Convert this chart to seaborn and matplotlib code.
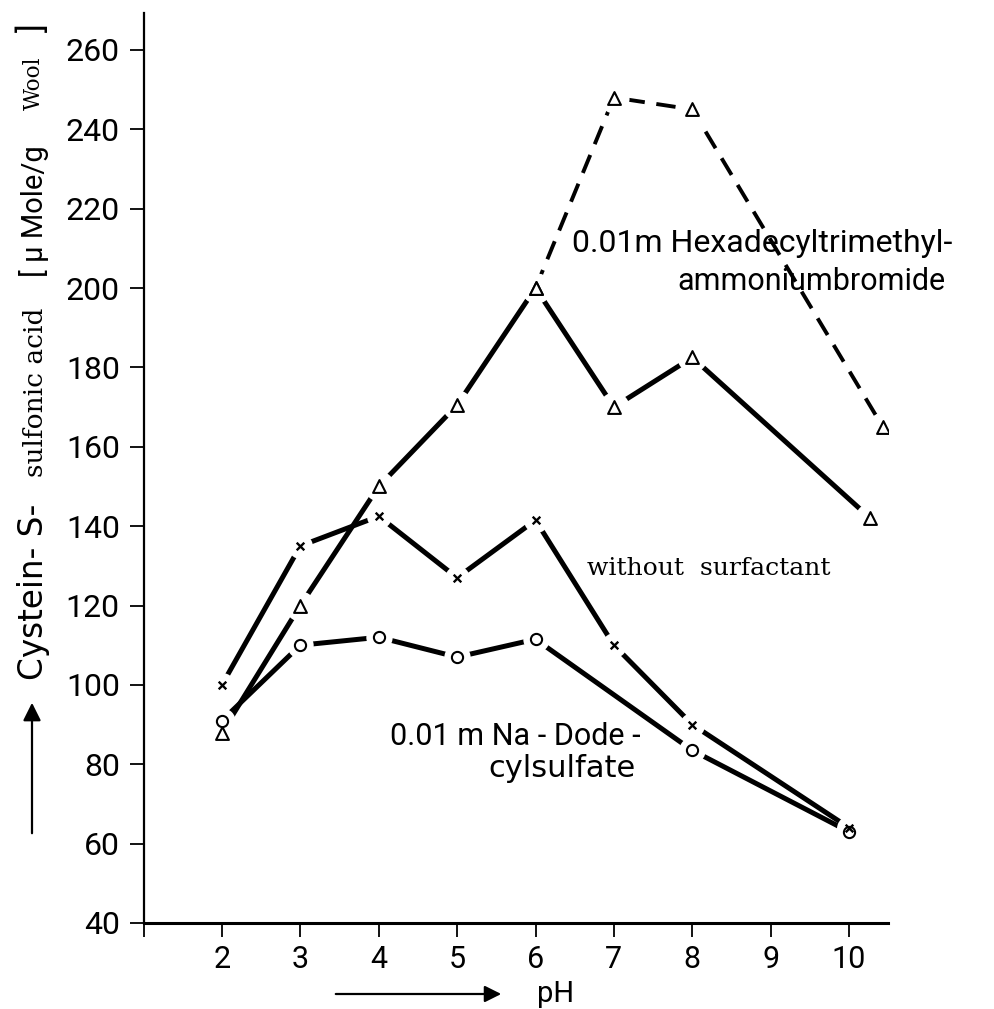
import matplotlib
matplotlib.use("Agg")
import matplotlib.pyplot as plt
import seaborn as sns

# ---------------- data ----------------
ph_cetyl = [2, 3, 4, 5, 6, 7, 8, 10.27]
val_cetyl = [88, 120, 150, 170.5, 200, 170, 182.5, 142]
ph_cetyl_dash = [6, 7, 8, 10.43]
val_cetyl_dash = [200, 248, 245, 165]
ph_none = [2, 3, 4, 5, 6, 7, 8, 10]
val_none = [100, 135, 142.5, 127, 141.5, 110, 90, 64]
ph_sds = [2, 3, 4, 5, 6, 8, 10]
val_sds = [91, 110, 112, 107, 111.5, 83.5, 63]

x_ticks = [1, 2, 3, 4, 5, 6, 7, 8, 9, 10]
x_ticklabels = ["", "2", "3", "4", "5", "6", "7", "8", "9", "10"]
y_ticks = [40, 60, 80, 100, 120, 140, 160, 180, 200, 220, 240, 260]
y_ticklabels = [str(v) for v in y_ticks]

label_cetyl_1 = "0.01m Hexadecyltrimethyl-"
label_cetyl_2 = "ammoniumbromide"
label_none = "without  surfactant"
label_sds_1 = "0.01 m Na - Dode -"
label_sds_2 = "cylsulfate"

# ---------------- style ----------------
sns.set_theme(style="white")
plt.rcParams["font.family"] = ["Roboto", "DejaVu Sans"]

W, H = 995, 1009
fig = plt.figure(figsize=(W / 100, H / 100), dpi=100)
fig.patch.set_facecolor("white")
ax = fig.add_axes([143.5 / W, 1 - 923 / H, 744.8 / W, 910 / H])
ax.set_facecolor("white")

LW = 3.6
# lines
sns.lineplot(x=ph_cetyl, y=val_cetyl, ax=ax, color="black", linewidth=LW,
             sort=False, estimator=None, zorder=2)
sns.lineplot(x=ph_cetyl_dash, y=val_cetyl_dash, ax=ax, color="black",
             linewidth=2.8, linestyle=(0, (5.0, 3.0)), sort=False,
             estimator=None, zorder=2)
sns.lineplot(x=ph_none, y=val_none, ax=ax, color="black", linewidth=LW,
             sort=False, estimator=None, zorder=2)
sns.lineplot(x=ph_sds, y=val_sds, ax=ax, color="black", linewidth=LW,
             sort=False, estimator=None, zorder=2)

# white masks so the lines stop short of the markers
sns.scatterplot(x=ph_cetyl + ph_cetyl_dash, y=val_cetyl + val_cetyl_dash, ax=ax,
                s=470, color="white", edgecolor="white", linewidth=0, zorder=5)
sns.scatterplot(x=ph_sds, y=val_sds, ax=ax, s=360, color="white",
                edgecolor="white", linewidth=0, zorder=5)
sns.scatterplot(x=ph_none, y=val_none, ax=ax, s=320, color="white",
                edgecolor="white", linewidth=0, zorder=5)

# markers
sns.scatterplot(x=ph_cetyl + ph_cetyl_dash, y=val_cetyl + val_cetyl_dash, ax=ax,
                marker="^", s=85, color="white", edgecolor="black",
                linewidth=1.5, zorder=6)
sns.scatterplot(x=ph_sds, y=val_sds, ax=ax, marker="o", s=65, color="white",
                edgecolor="black", linewidth=1.5, zorder=6)
sns.scatterplot(x=ph_none, y=val_none, ax=ax, marker="x", s=30, color="black",
                linewidth=1.7, zorder=6)

# axes
ax.set_xlim(1.0, 10.5)
ax.set_ylim(40, 269.3)
ax.set_xticks(x_ticks)
ax.set_xticklabels(x_ticklabels)
ax.set_yticks(y_ticks)
ax.set_yticklabels(y_ticklabels)
ax.set_xlabel("")
ax.set_ylabel("")
for s in ["top", "right"]:
    ax.spines[s].set_visible(False)
ax.spines["left"].set_color("black")
ax.spines["left"].set_linewidth(1.6)
ax.spines["bottom"].set_color("black")
ax.spines["bottom"].set_linewidth(2.2)
ax.tick_params(axis="y", direction="out", length=10, width=1.3, labelsize=23,
               pad=7, colors="black", left=True)
ax.tick_params(axis="x", direction="out", length=10, width=1.3, labelsize=22,
               pad=6, colors="black", bottom=True)
ax.grid(False)

# curve annotations
ax.text(6.468, 209.2, label_cetyl_1, fontsize=23, va="baseline", ha="left",
        color="black", zorder=7)
ax.text(7.807, 199.5, label_cetyl_2, fontsize=22, va="baseline", ha="left",
        color="black", zorder=7)
ax.text(6.66, 127.7, label_none, fontsize=18, family=["DejaVu Serif"],
        va="baseline", ha="left", color="black", zorder=7)
ax.text(4.147, 84.9, label_sds_1, fontsize=22, va="baseline", ha="left",
        color="black", zorder=7)
ax.text(5.397, 76.9, label_sds_2, fontsize=22, family=["DejaVu Sans"],
        va="baseline", ha="left", color="black", zorder=7)

# y axis label in pieces (mixed typefaces as in the original)
bx = 43 / W
fig.text(bx, 1 - 592 / H, "Cystein- S-", rotation=90, rotation_mode="anchor",
         ha="center", va="baseline", fontsize=23.5, family=["DejaVu Sans"],
         color="black")
fig.text(bx, 1 - 392 / H, "sulfonic acid", rotation=90, rotation_mode="anchor",
         ha="center", va="baseline", fontsize=19, family=["DejaVu Serif"],
         color="black")
fig.text(bx, 1 - 211 / H, "[ µ Mole/g", rotation=90, rotation_mode="anchor",
         ha="center", va="baseline", fontsize=21, color="black")
fig.text(40 / W, 1 - 83 / H, "Wool", rotation=90, rotation_mode="anchor",
         ha="center", va="baseline", fontsize=15.5, family=["DejaVu Serif"],
         color="black")
fig.text(bx, 1 - 28 / H, "]", rotation=90, rotation_mode="anchor",
         ha="center", va="baseline", fontsize=24, color="black")

# arrows
ax.annotate("", xy=(32, H - 700), xytext=(32, H - 836), xycoords="figure pixels",
            textcoords="figure pixels",
            arrowprops=dict(arrowstyle="-|>", color="black", lw=1.6,
                            mutation_scale=27))
ax.annotate("", xy=(504, H - 994), xytext=(333, H - 994), xycoords="figure pixels",
            textcoords="figure pixels",
            arrowprops=dict(arrowstyle="-|>", color="black", lw=1.6,
                            mutation_scale=25))
fig.text(537 / W, 1 - 1002 / H, "pH", ha="left", va="baseline", fontsize=21,
         color="black")

fig.savefig("out.png", dpi=100, facecolor="white")
